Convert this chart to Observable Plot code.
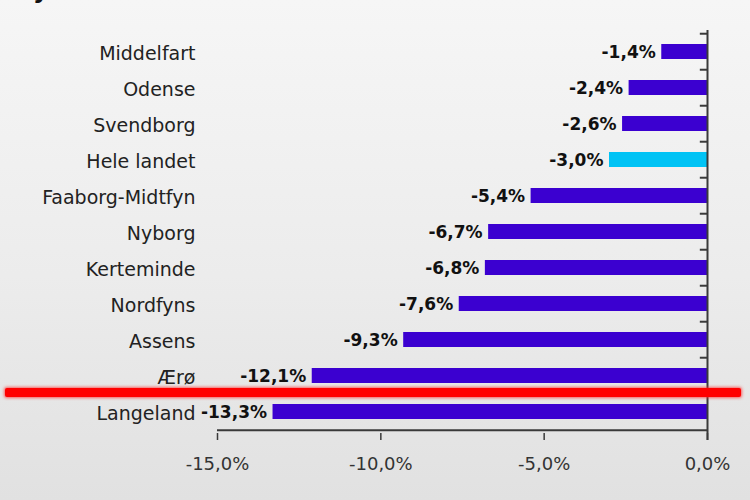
<!DOCTYPE html>
<html>
<head>
<meta charset="utf-8">
<script src="https://cdn.jsdelivr.net/npm/d3@7"></script>
<script src="https://cdn.jsdelivr.net/npm/@observablehq/plot@0.6"></script>
<style>
  html, body { margin: 0; padding: 0; }
  #wrap {
    position: relative; width: 750px; height: 500px; overflow: hidden;
    background: linear-gradient(to bottom, #f6f6f6 0%, #ececec 55%, #e1e1e1 100%);
    font-family: "DejaVu Sans", sans-serif;
  }
  #title {
    position: absolute; left: 18px; top: -22px; font-size: 24px; line-height: 1;
    font-weight: bold; color: #111; white-space: nowrap;
  }
  #chart { position: absolute; left: 0; top: 0; }
  #redline {
    position: absolute; left: 5px; top: 388px; width: 736px; height: 9px;
    background: #ff0000; border-radius: 2px; box-shadow: 0 0 3px 1px rgba(255,40,40,0.7);
  }
</style>
</head>
<body>
<div id="wrap">
  <div id="title">Fynske kommuner</div>
  <div id="chart"></div>
  <div id="redline"></div>
</div>
<script>
const categories = ["Middelfart", "Odense", "Svendborg", "Hele landet", "Faaborg-Midtfyn", "Nyborg", "Kerteminde", "Nordfyns", "Assens", "Ærø", "Langeland"];
const values = [-1.4, -2.4, -2.6, -3.0, -5.4, -6.7, -6.8, -7.6, -9.3, -12.1, -13.3];
const highlight = "Hele landet";
const xTicks = [-15, -10, -5, 0];

const violet = "#3b00d0";
const cyan = "#00c3f5";
const axisColor = "#3a3a3a";

const data = categories.map((name, i) => ({name, value: values[i]}));
const fmt = d => d.toFixed(1).replace("-0.0", "0.0").replace(".", ",") + "%";

const W = 750, H = 500, mT = 31, mB = 67, mL = 217, mR = 43;
const step = (H - mT - mB) / categories.length;

const chart = Plot.plot({
  width: W, height: H,
  marginTop: mT, marginBottom: mB, marginLeft: mL, marginRight: mR,
  style: {background: "transparent", fontFamily: "DejaVu Sans, sans-serif", color: "#222", overflow: "visible"},
  x: {domain: [-15, 0], label: null},
  y: {domain: categories, paddingInner: 0.58, paddingOuter: 0.29, label: null},
  color: {type: "identity"},
  marks: [
    Plot.barX(data, {x1: 0, x2: "value", y: "name", fill: d => d.name === highlight ? cyan : violet}),
    Plot.text(data, {x: "value", y: "name", text: d => fmt(d.value), textAnchor: "end", dx: -6, dy: 1,
      fontWeight: "bold", fontSize: 17, fill: "#111", letterSpacing: "-0.3px"}),
    Plot.ruleY(categories, {y: d => d, x1: -0.22, x2: 0, dy: -step / 2, stroke: axisColor, strokeWidth: 2}),
    Plot.ruleY([categories[categories.length - 1]], {y: d => d, x1: -15, x2: 0, dy: step / 2, stroke: axisColor, strokeWidth: 2}),
    Plot.ruleX([0], {stroke: axisColor, strokeWidth: 2, insetBottom: -7, insetTop: -1}),
    Plot.axisX({ticks: xTicks, tickSize: 7, tickPadding: 17, fontSize: 18, tickFormat: fmt, label: null,
      stroke: axisColor, strokeWidth: 1.5, fill: "#333"}),
    Plot.axisY({tickSize: 0, tickPadding: 22, fontSize: 19, fill: "#222", dy: 2, label: null})
  ]
});
document.getElementById("chart").appendChild(chart);
</script>
</body>
</html>
